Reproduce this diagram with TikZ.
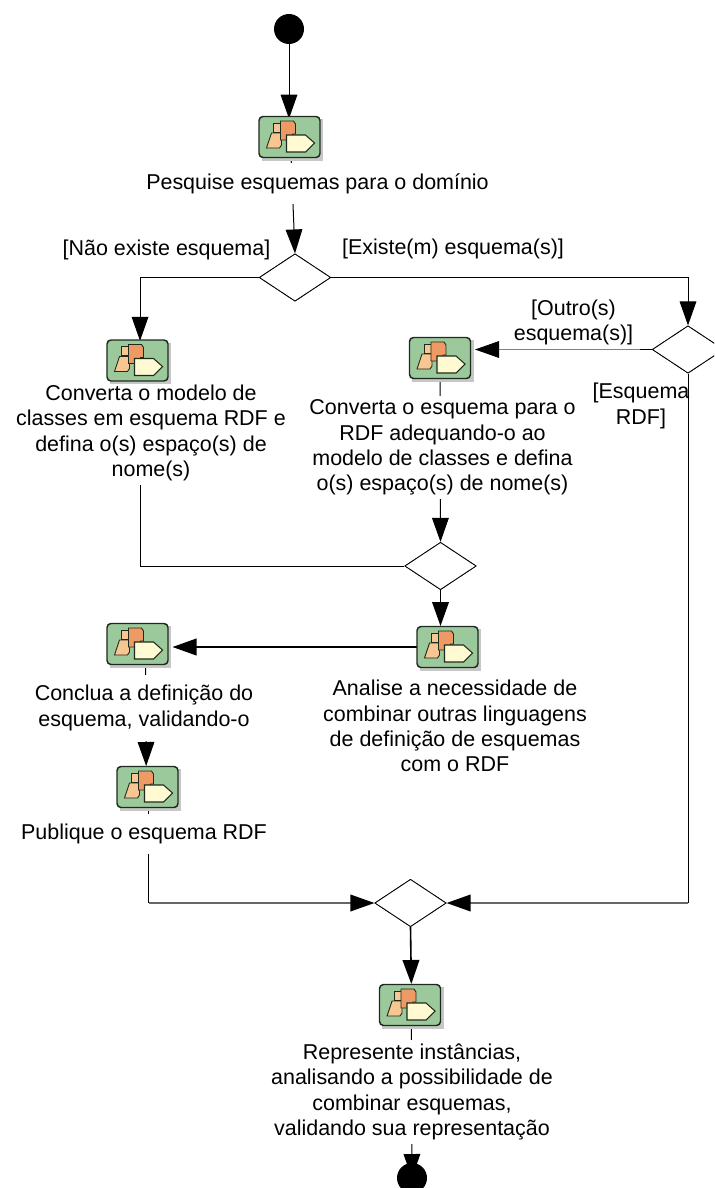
\documentclass[tikz,border=0pt]{standalone}
\usepackage{fontspec}
\setmainfont{Liberation Sans}
\usetikzlibrary{shapes.geometric,arrows.meta}
\definecolor{icongreen}{HTML}{9CC99C}
\definecolor{iconorange}{HTML}{EE9A64}
\definecolor{iconpeach}{HTML}{F8C690}
\definecolor{iconcream}{HTML}{FFFAD2}
\definecolor{iconedge}{HTML}{1E2A1E}
\tikzset{
  every node/.style={font=\fontsize{16.1}{19}\selectfont},
  flow/.style={draw=black,line width=0.75pt},
  arrowflow/.style={flow,-{Triangle[width=12.5pt,length=18pt,black]}},
  heavyflow/.style={arrowflow,line width=1.2pt},
  greyflow/.style={arrowflow,draw=black!60,line width=1.1pt},
  faintflow/.style={arrowflow,draw=black!50,line width=0.7pt},
  decision/.style={draw=black,fill=white,shape=diamond,aspect=1.5,inner sep=0pt,minimum width=53.5pt,minimum height=35.5pt,line width=0.6pt},
  iconbox/.style={minimum width=46.5pt,minimum height=31.5pt,inner sep=0pt,outer sep=0pt},
  caption/.style={fill=white,align=center,inner xsep=1pt,inner ysep=3pt},
  shortcaption/.style={caption,inner ysep=7.5pt},
  guard/.style={align=center,inner sep=0pt},
  terminal/.style={circle,fill=black,inner sep=0pt,minimum size=22.5pt},
  acticon/.pic={
    \fill[black!22] (-28,-18) rectangle (33.5,23.5);
    \draw[iconedge,line width=1.1pt,fill=icongreen,rounded corners=3pt] (-30.5,-20.5) rectangle (30.5,20.5);
    \draw[iconedge,line width=0.6pt,fill=iconpeach] (-16,-14) rectangle (-8,-5);
    \draw[iconedge,line width=0.7pt,fill=iconpeach] (-18,-4) -- (-8,-4) -- (-8,8) -- (-10,11) -- (-23,11) -- cycle;
    \draw[iconedge,line width=0.7pt,fill=iconorange] (-9,-16) -- (4,-16) -- (6,-13) -- (6,-3) -- (3,-3) -- (3,3) -- (-9,3) -- cycle;
    \draw[iconedge,line width=0.8pt,fill=iconcream] (-3,-2) -- (16,-2) -- (25,6) -- (16,15) -- (-3,15) -- cycle;
  }
}
\begin{document}
\begin{tikzpicture}[x=0.75pt,y=-0.75pt]
\useasboundingbox (0,0) rectangle (714,1188);
\clip (0,0) rectangle (714,1188);

% icons
\node[iconbox] (i1) at (289.5,137) {};
\node[iconbox] (i2) at (137.5,360.5) {};
\node[iconbox] (i3) at (440,358) {};
\node[iconbox] (i4) at (447.5,647) {};
\node[iconbox] (i5) at (137.5,644) {};
\node[iconbox] (i6) at (147.5,787) {};
\node[iconbox] (i7) at (410,1005) {};

% decisions
\node[decision] (d1) at (295,277.5) {};
\node[decision] (d2) at (688,349.5) {};
\node[decision] (d3) at (440.5,566) {};
\node[decision] (d4) at (410.5,903) {};

% terminals
\node[terminal] (start) at (289,29) {};
\node[terminal] (end) at (412,1178) {};

% elbow points
\coordinate (c1) at ([xshift=1pt]i6.south |- d4.west);
\coordinate (c2) at (d2.south |- d4.east);

% connectors
\draw[arrowflow] (start) -- ([yshift=-2pt]start |- i1.north);
\draw[arrowflow] ([xshift=1.2pt]i1.south) -- (d1.north);
\draw[arrowflow] (d1.west) -| ([xshift=1.9pt,yshift=-1pt]i2.north);
\draw[arrowflow] (d1.east) -| (d2.north);
\draw[faintflow] (d2.west) -- ([xshift=3pt]i3.east |- d2.west);
\draw[flow] (d2.west) -- ++(-12,0);
\draw[arrowflow] (i3.south) -- (d3.north);
\draw[heavyflow] (d3.south) -- (d3.south |- i4.north);
\draw[heavyflow] (i4.west) -- ([xshift=3pt]i5.east |- i4.west);
\draw[arrowflow] ([xshift=6pt]i5.south) -- ([xshift=-1pt]i6.north);
\draw[flow] ([xshift=1.9pt]i2.south) |- (d3.west);
\draw[flow] ([xshift=1pt]i6.south) -- (c1);
\draw[greyflow] (c1) -- (d4.west);
\draw[flow] (d2.south) -- (c2);
\draw[greyflow] (c2) -- (d4.east);
\draw[heavyflow] (d4.south) -- ([xshift=1pt]i7.north);
\draw[arrowflow] ([xshift=1pt]i7.south) -- (end.center);

% redraw decisions over the line ends
\node[decision] at (d1) {};
\node[decision] at (d2) {};
\node[decision] at (d3) {};
\node[decision] at (d4) {};

% captions
\node[shortcaption] (t1) at (317.5,183.5) {Pesquise esquemas para o domínio};
\node[caption] (t2) at (151,433) {Converta o modelo de\\classes em esquema RDF e\\defina o(s) espaço(s) de\\nome(s)};
\node[caption] (t3) at (442.5,447.5) {Converta o esquema para o\\RDF adequando-o ao\\modelo de classes e defina\\o(s) espaço(s) de nome(s)};
\node[caption] (t4) at (455,726) {Analise a necessidade de\\combinar outras linguagens\\de definição de esquemas\\com o RDF};
\node[shortcaption] (t5) at (144,708) {Conclua a definição do\\esquema, validando-o};
\node[shortcaption] (t6) at (144,834) {Publique o esquema RDF};
\node[caption] (t7) at (412,1092) {Represente instâncias,\\analisando a possibilidade de\\combinar esquemas,\\validando sua representação};

% icon drawings
\foreach \ic in {i1,i2,i3,i4,i5,i6,i7} { \pic at (\ic) {acticon}; }

% guards
\node[guard] (g1) at (166.5,250) {[Não existe esquema]};
\node[guard] (g2) at (453,249) {[Existe(m) esquema(s)]};
\node[guard] (g3) at (573.5,322.5) {[Outro(s)\\esquema(s)]};
\node[guard] (g4) at (641,406) {[Esquema\\RDF]};
\end{tikzpicture}
\end{document}
